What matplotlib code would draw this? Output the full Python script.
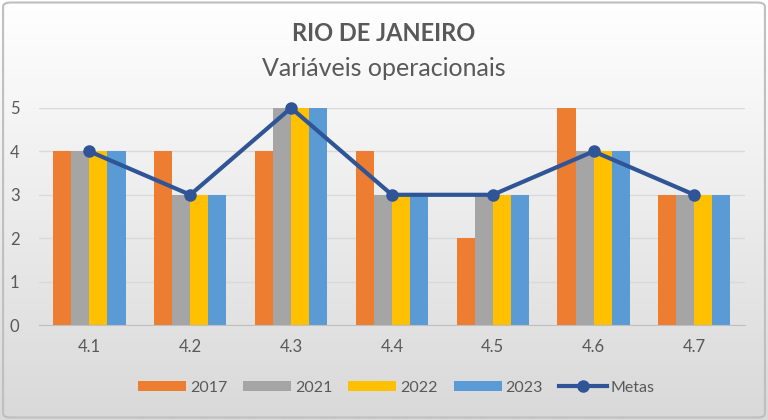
import numpy as np
import matplotlib.pyplot as plt
from matplotlib.patches import FancyBboxPatch

plt.rcParams['font.family'] = ['Lato', 'DejaVu Sans']

categories = ['4.1', '4.2', '4.3', '4.4', '4.5', '4.6', '4.7']
series_names = ['2017', '2021', '2022', '2023']
v2017 = [4, 4, 4, 4, 2, 5, 3]
v2021 = [4, 3, 5, 3, 3, 4, 3]
v2022 = [4, 3, 5, 3, 3, 4, 3]
v2023 = [4, 3, 5, 3, 3, 4, 3]
metas = [4, 3, 5, 3, 3, 4, 3]

colors = ['#ED7D31', '#A5A5A5', '#FFC000', '#5B9BD5']
line_color = '#2F5597'
text_color = '#595959'

fig = plt.figure(figsize=(7.68, 4.2), dpi=100)

# gradient background like the Excel chart area
bg = fig.add_axes([0, 0, 1, 1], zorder=-10)
grad = np.linspace(1.0, 0.0, 256).reshape(-1, 1)
bg.imshow(grad, aspect='auto', cmap=plt.cm.colors.LinearSegmentedColormap.from_list(
    'bg', ['#d9d9d9', '#ffffff']), extent=[0, 1, 0, 1], origin='upper')
bg.add_patch(FancyBboxPatch((0.004, 0.006), 0.992, 0.988, boxstyle='round,pad=0,rounding_size=0.01',
                            transform=bg.transAxes, fill=False, edgecolor='#bfbfbf', linewidth=1.5))
bg.set_xlim(0, 1)
bg.set_ylim(0, 1)
bg.axis('off')

ax = fig.add_axes([0.0508, 0.226, 0.919, 0.517])
ax.patch.set_alpha(0)

x = np.arange(len(categories))
w = 0.179
all_vals = [v2017, v2021, v2022, v2023]
for i, (vals, name) in enumerate(zip(all_vals, series_names)):
    ax.bar(x + (i - 1.5) * w, vals, width=w, color=colors[i], label=name, zorder=2)

ax.plot(x, metas, color=line_color, linewidth=3, marker='o', markersize=8,
        label='Metas', zorder=3, clip_on=False)

ax.set_xlim(-0.5, len(categories) - 0.5)
ax.set_ylim(0, 5)
ax.set_yticks(range(0, 6))
ax.set_xticks(x)
ax.set_xticklabels(categories)
ax.yaxis.grid(True, color='#d9d9d9', linewidth=1, zorder=0)
ax.set_axisbelow(True)
for s in ['top', 'right', 'left']:
    ax.spines[s].set_visible(False)
ax.spines['bottom'].set_color('#bfbfbf')
ax.tick_params(axis='both', length=0, colors=text_color, labelsize=12)
ax.tick_params(axis='x', pad=10)
ax.tick_params(axis='y', pad=14)

fig.text(0.5, 0.92, 'RIO DE JANEIRO', ha='center', va='center', fontsize=17,
         fontweight='bold', color=text_color)
fig.text(0.5, 0.837, 'Variáveis operacionais', ha='center', va='center', fontsize=18,
         color=text_color)

handles, labels = ax.get_legend_handles_labels()
# bars first, Metas last
order = [1, 2, 3, 4, 0]
fig.legend([handles[i] for i in order], [labels[i] for i in order],
           loc='center', bbox_to_anchor=(0.516, 0.077), ncol=5, frameon=False,
           fontsize=11.5, labelcolor=text_color, handlelength=3.0, handleheight=0.55,
           handletextpad=0.25, columnspacing=1.0)

fig.savefig('out.png', dpi=100)
